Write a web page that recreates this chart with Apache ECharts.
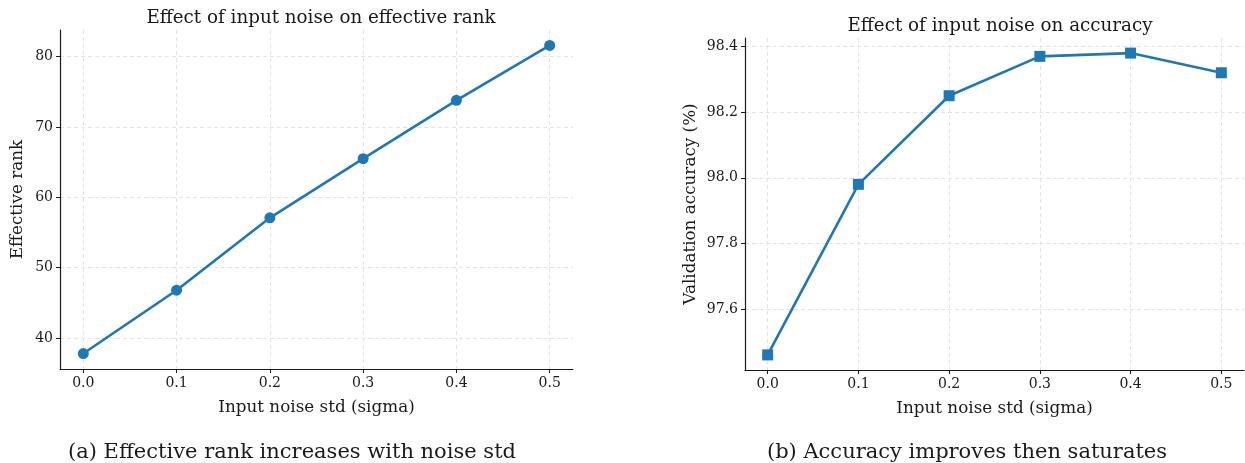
<!DOCTYPE html>
<html><head><meta charset="utf-8">
<script src="https://cdn.jsdelivr.net/npm/echarts@6/dist/echarts.min.js"></script>
<style>html,body{margin:0;padding:0;background:#fff}#c{width:1245px;height:463px}</style>
</head><body><div id="c"></div>
<script>
const noiseStd = [0.0, 0.1, 0.2, 0.3, 0.4, 0.5];
const effectiveRank = [37.8, 46.8, 57.1, 65.5, 73.8, 81.6];
const valAccuracy = [97.46, 97.98, 98.25, 98.37, 98.38, 98.32];
const xTicks = [0.0, 0.1, 0.2, 0.3, 0.4, 0.5];
const rankTicks = [40, 50, 60, 70, 80];
const accTicks = [97.6, 97.8, 98.0, 98.2, 98.4];

const SERIF = "DejaVu Serif";
const BLUE = "#1f77b4";
const chart = echarts.init(document.getElementById('c'), null, {renderer: 'canvas'});

function xAxis(gridIndex) {
  return {
    type: 'value', gridIndex, min: -0.025, max: 0.525,
    name: 'Input noise std (sigma)', nameLocation: 'middle', nameGap: 30,
    nameTextStyle: {fontFamily: SERIF, fontSize: 16.8, color: '#1a1a1a'},
    axisLine: {show: true, onZero: false, lineStyle: {color: '#1a1a1a', width: 1.2}},
    axisTick: {show: true, customValues: xTicks, length: 4, inside: false, lineStyle: {color: '#1a1a1a'}},
    axisLabel: {customValues: xTicks, fontFamily: SERIF, fontSize: 14, color: '#1a1a1a', margin: 7,
      formatter: v => v.toFixed(1)},
    splitLine: {show: true, lineStyle: {color: '#e3e3e3', type: [4, 3], width: 1}}
  };
}
function yAxis(gridIndex, min, max, ticks, name, dec, gap) {
  return {
    type: 'value', gridIndex, min, max,
    name, nameLocation: 'middle', nameGap: gap,
    nameTextStyle: {fontFamily: SERIF, fontSize: 16.8, color: '#1a1a1a'},
    axisLine: {show: true, onZero: false, lineStyle: {color: '#1a1a1a', width: 1.2}},
    axisTick: {show: true, customValues: ticks, length: 4, lineStyle: {color: '#1a1a1a'}},
    axisLabel: {customValues: ticks, fontFamily: SERIF, fontSize: 14, color: '#1a1a1a', margin: 7,
      formatter: v => v.toFixed(dec)},
    splitLine: {show: true, lineStyle: {color: '#e3e3e3', type: [4, 3], width: 1}}
  };
}

chart.setOption({
  animation: false,
  title: [
    {text: 'Effect of input noise on effective rank', left: 316, top: 4, textAlign: 'center',
      textStyle: {fontFamily: SERIF, fontSize: 18.3, fontWeight: 'normal', color: '#1a1a1a'}},
    {text: 'Effect of input noise on accuracy', left: 995, top: 12, textAlign: 'center',
      textStyle: {fontFamily: SERIF, fontSize: 18.3, fontWeight: 'normal', color: '#1a1a1a'}},
    {text: '(a) Effective rank increases with noise std', left: 287, top: 437, textAlign: 'center',
      textStyle: {fontFamily: SERIF, fontSize: 21, fontWeight: 'normal', color: '#1a1a1a'}},
    {text: '(b) Accuracy improves then saturates', left: 962, top: 437, textAlign: 'center',
      textStyle: {fontFamily: SERIF, fontSize: 21, fontWeight: 'normal', color: '#1a1a1a'}}
  ],
  grid: [
    {left: 60, right: 672, top: 30, bottom: 94},
    {left: 745, right: 1, top: 38, bottom: 93}
  ],
  xAxis: [xAxis(0), xAxis(1)],
  yAxis: [
    yAxis(0, 35.6, 83.8, rankTicks, 'Effective rank', 0, 34),
    yAxis(1, 97.414, 98.426, accTicks, 'Validation accuracy (%)', 1, 46)
  ],
  series: [
    {type: 'line', xAxisIndex: 0, yAxisIndex: 0, data: noiseStd.map((x, i) => [x, effectiveRank[i]]),
      symbol: 'circle', symbolSize: 11, lineStyle: {color: BLUE, width: 2.6},
      itemStyle: {color: BLUE}},
    {type: 'line', xAxisIndex: 1, yAxisIndex: 1, data: noiseStd.map((x, i) => [x, valAccuracy[i]]),
      symbol: 'rect', symbolSize: 11, lineStyle: {color: BLUE, width: 2.6},
      itemStyle: {color: BLUE}}
  ]
});
</script></body></html>
